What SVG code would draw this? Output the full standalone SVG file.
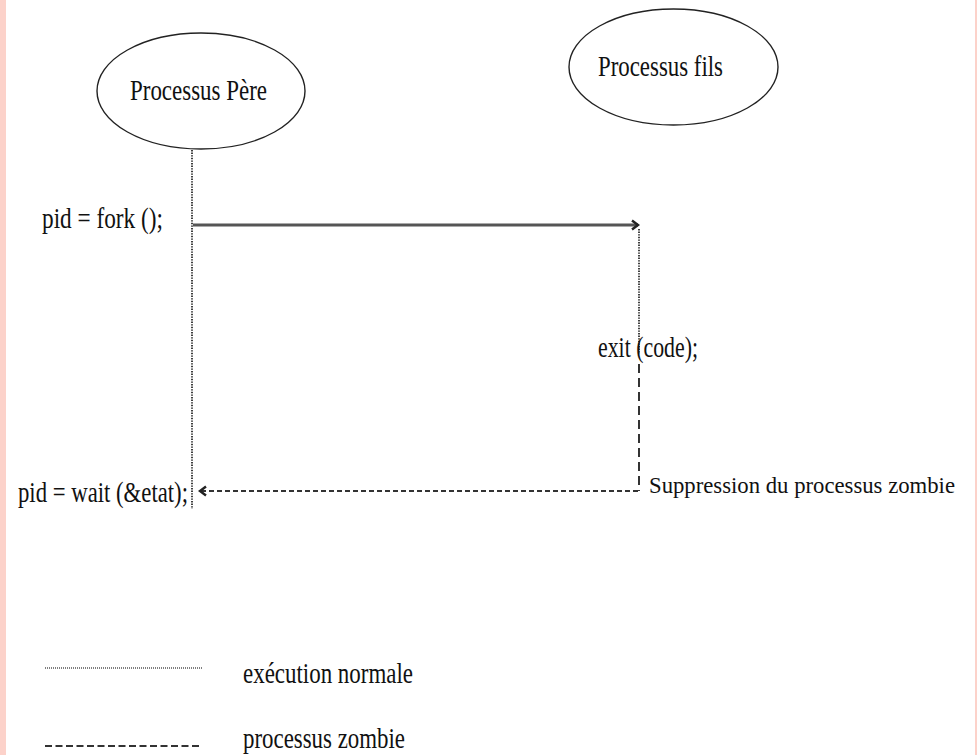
<svg xmlns="http://www.w3.org/2000/svg" width="977" height="755" viewBox="0 0 977 755">
<defs>
<style>
text{font-family:"Liberation Serif","Times New Roman",serif;font-size:29px;fill:#111}
.node ellipse{fill:#fff;stroke:#222;stroke-width:1.4}
.dot{stroke:#000;stroke-width:1.5;stroke-dasharray:1.4 1.2;fill:none}
.dash{stroke:#333;stroke-width:1.8;stroke-dasharray:5 3;fill:none}
.vdash{stroke:#111;stroke-width:1.7;stroke-dasharray:9 5;fill:none}
.ldash{stroke:#333;stroke-width:2;stroke-dasharray:7 3.5;fill:none}
</style>
<marker id="arr" markerWidth="12" markerHeight="12" refX="9" refY="6" orient="auto" markerUnits="userSpaceOnUse">
<path d="M3,1.5 L9,6 L3,10.5" fill="none" stroke="#222" stroke-width="2.4"/>
</marker>
</defs>
<rect x="0" y="0" width="977" height="755" fill="#fff"/>
<rect x="0" y="0" width="6" height="755" fill="#fcd2ca"/>
<rect x="975" y="0" width="2" height="755" fill="#fcd2ca"/>

<g id="pere" class="node">
<ellipse cx="201" cy="91" rx="104" ry="58"/>
<text x="130" y="100" textLength="137" lengthAdjust="spacingAndGlyphs" style="font-size:30px">Processus Père</text>
</g>
<g id="fils" class="node">
<ellipse cx="673.5" cy="67" rx="104.5" ry="58"/>
<text x="598" y="76" textLength="125" lengthAdjust="spacingAndGlyphs" style="font-size:30px">Processus fils</text>
</g>

<g id="connectors">
<line class="dot" x1="192" y1="150" x2="192" y2="509"/>
<line x1="193" y1="225" x2="638" y2="225" stroke="#555" stroke-width="2.8" marker-end="url(#arr)"/>
<line class="dot" x1="639" y1="229" x2="639" y2="354"/>
<line class="vdash" x1="639" y1="364" x2="639" y2="491"/>
<line class="dash" x1="638" y1="491" x2="200" y2="491" marker-end="url(#arr)"/>
</g>

<g id="labels">
<text x="42" y="228" textLength="121" lengthAdjust="spacingAndGlyphs">pid = fork ();</text>
<text x="598" y="357" textLength="100" lengthAdjust="spacingAndGlyphs">exit (code);</text>
<text x="18" y="502" textLength="170" lengthAdjust="spacingAndGlyphs">pid = wait (&amp;etat);</text>
<text x="649" y="493" textLength="306" lengthAdjust="spacingAndGlyphs" style="font-size:24px">Suppression du processus zombie</text>
</g>

<g id="legend">
<line class="dot" x1="45" y1="668" x2="202" y2="668" style="stroke-width:1.2;stroke-dasharray:1 1"/>
<text x="243" y="683" textLength="170" lengthAdjust="spacingAndGlyphs">exécution normale</text>
<line class="ldash" x1="45" y1="746" x2="202" y2="746"/>
<text x="243" y="748" textLength="162" lengthAdjust="spacingAndGlyphs">processus zombie</text>
</g>
</svg>
